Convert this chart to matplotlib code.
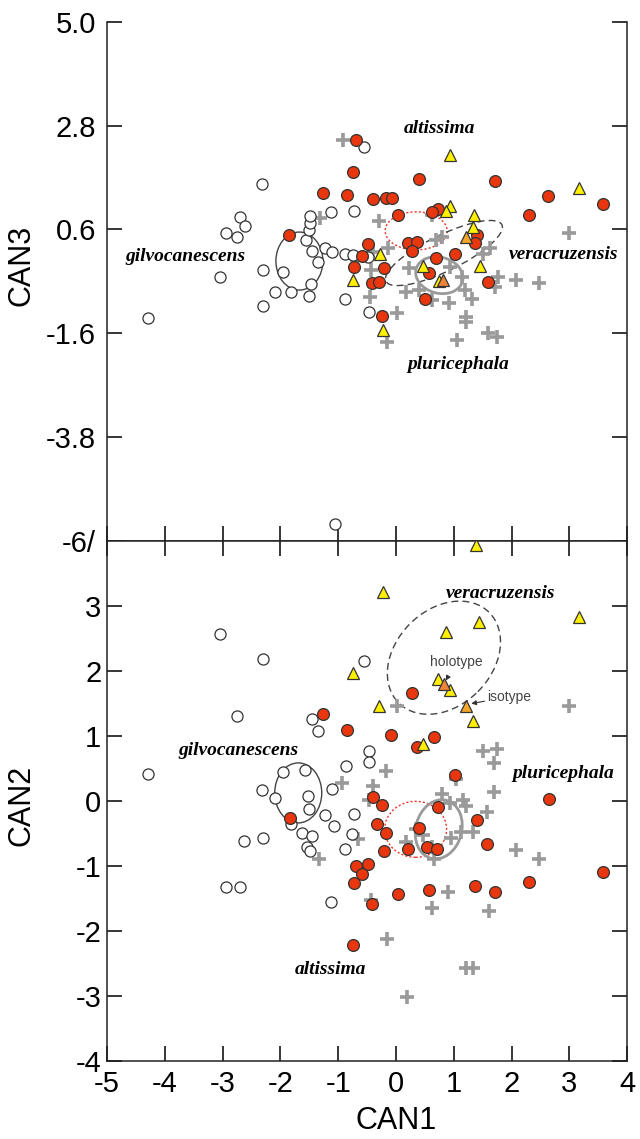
import matplotlib
matplotlib.use("Agg")
import matplotlib.pyplot as plt
from matplotlib.patches import Ellipse
from matplotlib.transforms import ScaledTranslation

plt.rcParams['font.family'] = ['Liberation Sans', 'DejaVu Sans']

# ---- top panel: CAN1 vs CAN3 ----
gilv3_x = [-0.55, -2.32, -2.69, -2.61, -2.94, -2.75, -3.04, -4.29, -2.30, -2.30, -2.09, -1.82,
           -1.51, -1.47, -1.95, -1.35, -1.45, -1.56, -1.51, -1.49, -1.49, -1.12, -0.73, -1.23,
           -1.10, -0.88, -0.74, -0.48, -0.88, -0.46, -1.05]
gilv3_y = [2.34, 1.56, 0.87, 0.67, 0.53, 0.45, -0.41, -1.28, -0.27, -1.02, -0.73, -0.73,
           -0.81, -0.55, -0.30, -0.10, 0.14, 0.37, 0.58, 0.73, 0.89, 0.97, 0.99, 0.21,
           0.12, 0.08, 0.06, 0.02, -0.87, -1.14, -5.65]

alt3_x = [-0.69, -0.75, 0.40, 1.72, -0.84, -0.40, -0.18, -0.07, 2.63, 3.58, 2.30, 0.04, 0.73,
          0.62, 1.40, 1.37, 0.20, 0.36, 0.28, -0.48, -0.59, 0.70, 1.03, -0.73, -0.20, -0.42,
          -0.29, 0.57, 1.59, 0.51, -0.24, -1.26, -1.85]
alt3_y = [2.50, 1.81, 1.66, 1.63, 1.33, 1.25, 1.26, 1.27, 1.30, 1.15, 0.91, 0.90, 1.03,
          0.98, 0.48, 0.32, 0.31, 0.34, 0.14, 0.29, 0.04, -0.01, 0.08, -0.20, -0.22, -0.54,
          -0.52, -0.33, -0.51, -0.87, -1.24, 1.37, 0.48]

ver3_x = [0.93, 3.17, 0.93, 0.86, 1.35, 1.33, -0.28, 1.45, 0.46, -0.74, 0.74, -0.23]
ver3_y = [2.18, 1.47, 1.10, 0.99, 0.91, 0.66, 0.09, -0.17, -0.17, -0.47, -0.49, -1.53]

plu3_x = [-0.92, -0.29, 0.62, 2.99, 0.70, 0.79, -0.13, -0.39, 1.63, 1.51, -0.68, -0.43, 0.22,
          0.93, 1.14, 1.77, 2.08, 2.48, 1.72, 0.18, 0.40, 1.19, -0.45, 0.62, 1.32, 0.92, 0.01,
          1.22, 1.21, 1.59, 1.74, 1.05, -0.16, -1.31]
plu3_y = [2.50, 0.79, 0.91, 0.53, 0.38, 0.43, 0.20, 0.13, 0.20, 0.08, -0.05, -0.26, -0.22,
          -0.19, -0.40, -0.40, -0.47, -0.54, -0.61, -0.72, -0.68, -0.68, -0.84, -0.90, -0.88,
          -0.97, -1.18, -1.25, -1.36, -1.59, -1.67, -1.75, -1.78, 0.84]

holo3 = (0.82, -0.47)
iso3 = (1.22, 0.45)

# ---- bottom panel: CAN1 vs CAN2 ----
gilv2_x = [-3.04, -2.30, -0.55, -2.75, -1.45, -1.34, -0.46, -0.46, -0.87, -4.29, -1.95, -1.57,
           -2.32, -2.09, -1.52, -1.10, -1.50, -1.22, -0.73, -1.07, -1.82, -1.62, -1.45, -1.53,
           -1.49, -0.76, -0.88, -2.62, -2.30, -2.94, -2.69, -1.12]
gilv2_y = [2.56, 2.18, 2.15, 1.30, 1.25, 1.08, 0.77, 0.60, 0.53, 0.41, 0.44, 0.47,
           0.16, 0.04, 0.07, 0.18, -0.12, -0.22, -0.20, -0.39, -0.36, -0.50, -0.54, -0.71,
           -0.78, -0.51, -0.74, -0.62, -0.58, -1.33, -1.32, -1.56]

alt2_x = [0.27, -0.84, -0.09, 0.66, 0.36, 1.03, 2.64, -1.27, -0.39, -0.24, 0.73, -1.83, -0.32,
          -0.69, -0.49, -0.58, -0.73, -0.42, -0.74, -0.17, 1.40, 0.40, 0.20, 0.53, 0.71, -0.20,
          1.58, 3.58, 2.30, 1.37, 1.72, 0.04, 0.57]
alt2_y = [1.66, 1.09, 1.01, 0.98, 0.83, 0.40, 0.02, 1.33, 0.05, -0.07, -0.09, -0.27, -0.36,
          -1.00, -0.97, -1.12, -1.26, -1.59, -2.22, -0.49, -0.29, -0.42, -0.75, -0.71, -0.75, -0.77,
          -0.67, -1.10, -1.25, -1.31, -1.41, -1.43, -1.37]

ver2_x = [-0.23, 1.44, 3.17, 0.86, -0.74, 0.73, 0.93, -0.29, 1.33, 0.46, 1.39]
ver2_y = [3.21, 2.75, 2.83, 2.60, 1.97, 1.87, 1.71, 1.46, 1.23, 0.88, 3.93]

plu2_x = [0.01, 2.99, 1.50, 1.75, 1.70, -0.17, -0.93, -0.39, 1.70, 1.04, 0.79, 1.16, -0.46,
          0.93, 1.22, 1.57, 0.35, 0.46, 1.12, 1.33, 0.95, 0.18, 0.62, 0.66, -0.66, -1.33,
          -0.44, 2.08, 2.47, 0.90, 0.63, 1.61, -0.15, 1.22, 1.33, 0.19]
plu2_y = [1.45, 1.46, 0.76, 0.79, 0.58, 0.45, 0.27, 0.23, 0.14, 0.34, 0.11, 0.01, 0.01,
          -0.04, -0.08, -0.18, -0.44, -0.53, -0.48, -0.48, -0.58, -0.63, -0.71, -0.89, -0.59, -0.89,
          -1.53, -0.76, -0.89, -1.40, -1.65, -1.70, -2.13, -2.58, -2.58, -3.02]

holo2 = (0.83, 1.80)
iso2 = (1.21, 1.46)

RED = '#e8360e'
YEL = '#fff000'
GRAY = '#9a9a9a'
EDGE = '#333333'


def draw_points(ax, gx, gy, ax_, ay, vx, vy, px, py, holo, iso):
    ax.plot(px, py, linestyle='none', marker='+', ms=10, mew=2.6, color=GRAY, zorder=3)
    ax.plot(gx, gy, linestyle='none', marker='o', ms=8, mfc='white', mec=EDGE, mew=0.9, zorder=4)
    ax.plot(ax_, ay, linestyle='none', marker='o', ms=8.5, mfc=RED, mec=EDGE, mew=0.9, zorder=4)
    ax.plot(vx, vy, linestyle='none', marker='^', ms=9, mfc=YEL, mec=EDGE, mew=0.9, zorder=5)
    ax.plot([holo[0]], [holo[1]], linestyle='none', marker='^', ms=9, mfc='#ef8438', mec=EDGE, mew=0.9, zorder=5)
    ax.plot([iso[0]], [iso[1]], linestyle='none', marker='^', ms=9, mfc='#f4a62a', mec=EDGE, mew=0.9, zorder=5)


def ring(ax, center, w_in, h_in, angle=0, **kw):
    # ellipse sized in inches on the page, centred on a data point
    tr = fig.dpi_scale_trans + ScaledTranslation(center[0], center[1], ax.transData)
    ax.add_patch(Ellipse((0, 0), w_in, h_in, angle=angle, fill=False, transform=tr, zorder=2, **kw))


fig = plt.figure(figsize=(6.4, 11.39), dpi=100)
ax1 = fig.add_axes([0.167, 0.5253, 0.813, 0.4554])
ax2 = fig.add_axes([0.167, 0.0687, 0.813, 0.4566], sharex=ax1)

draw_points(ax1, gilv3_x, gilv3_y, alt3_x, alt3_y, ver3_x, ver3_y, plu3_x, plu3_y, holo3, iso3)
draw_points(ax2, gilv2_x, gilv2_y, alt2_x, alt2_y, ver2_x, ver2_y, plu2_x, plu2_y, holo2, iso2)

solid = dict(ec='#444444', lw=1.0)
dotted = dict(ec='#e8362a', lw=1.0, ls=(0, (1.5, 1.5)))
dashed = dict(ec='#444444', lw=1.0, ls=(0, (5, 3)))
thick = dict(ec=GRAY, lw=2.0)

# group ellipses, top
ring(ax1, (-1.67, -0.07), 0.47, 0.58, 0, **solid)
ring(ax1, (0.35, 0.57), 0.62, 0.38, 0, **dotted)
ring(ax1, (0.83, 0.10), 1.29, 0.36, 26, **dashed)
ring(ax1, (0.75, -0.37), 0.48, 0.36, -15, **thick)

# group ellipses, bottom
ring(ax2, (-1.69, 0.12), 0.47, 0.60, 0, **solid)
ring(ax2, (0.34, -0.44), 0.62, 0.56, 0, **dotted)
ring(ax2, (0.83, 2.20), 1.28, 0.96, 45, **dashed)
ring(ax2, (0.74, -0.44), 0.46, 0.60, -15, **thick)

lab = dict(family=['Liberation Serif', 'DejaVu Serif'], style='italic', weight='bold', fontsize=14,
           ha='center', va='center')
ax1.text(0.76, 2.75, 'altissima', **lab)
ax1.text(-3.65, 0.02, 'gilvocanescens', **lab)
ax1.text(2.90, 0.07, 'veracruzensis', **lab)
ax1.text(1.07, -2.27, 'pluricephala', **lab)
ax2.text(1.81, 3.19, 'veracruzensis', **lab)
ax2.text(-2.73, 0.77, 'gilvocanescens', **lab)
ax2.text(2.90, 0.42, 'pluricephala', **lab)
ax2.text(-1.14, -2.60, 'altissima', **lab)

ax2.annotate('holotype', xy=(0.85, 1.83), xytext=(1.05, 2.14), fontsize=10, color='#444444',
             ha='center', va='center',
             arrowprops=dict(arrowstyle='-|>', color='#333333', lw=0.8, mutation_scale=7, shrinkA=6, shrinkB=1))
ax2.annotate('isotype', xy=(1.28, 1.49), xytext=(1.96, 1.60), fontsize=10, color='#444444',
             ha='center', va='center',
             arrowprops=dict(arrowstyle='-|>', color='#333333', lw=0.8, mutation_scale=7, shrinkA=18, shrinkB=1))

ax1.set_xlim(-5, 4)
ax1.set_ylim(-6, 5)
ax2.set_ylim(-4, 4)

top_ticks = [-6, -3.8, -1.6, 0.6, 2.8, 5.0]
top_labels = ['-6/', '-3.8', '-1.6', '0.6', '2.8', '5.0']
ax1.set_yticks(top_ticks)
ax1.set_yticklabels(top_labels)
bot_ticks = [-4, -3, -2, -1, 0, 1, 2, 3]
ax2.set_yticks(bot_ticks)
ax2.set_yticklabels([str(t) for t in bot_ticks])
ax2.set_xticks(range(-5, 5))
ax2.set_xticklabels([str(t) for t in range(-5, 5)])

for a in (ax1, ax2):
    for s in a.spines.values():
        s.set_linewidth(1.1)
        s.set_color('#222222')
    a.tick_params(axis='both', direction='in', length=11, width=1.1, labelsize=21,
                  left=True, right=True)

ax1.tick_params(axis='x', bottom=True, top=False, labelbottom=False)
ax1.spines['top'].set_visible(False)
ax1.tick_params(axis='y', pad=8)
ax2.tick_params(axis='x', bottom=True, top=True, pad=7)
ax2.tick_params(axis='y', pad=4)

ax1.set_ylabel('CAN3', fontsize=22, labelpad=0)
ax1.yaxis.set_label_coords(-0.135, 0.53)
ax2.set_ylabel('CAN2', fontsize=22)
ax2.yaxis.set_label_coords(-0.135, 0.49)
ax2.set_xlabel('CAN1', fontsize=22)
ax2.xaxis.set_label_coords(0.556, -0.087)

fig.savefig('out.png', dpi=100)
